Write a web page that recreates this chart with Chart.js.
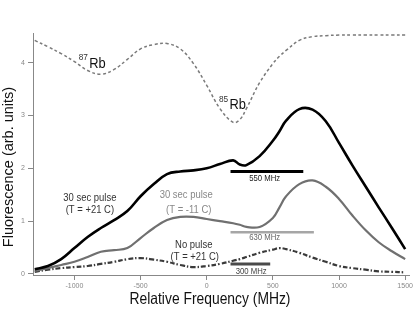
<!DOCTYPE html>
<html>
<head>
<meta charset="utf-8">
<script src="https://cdn.jsdelivr.net/npm/chart.js@4.4.1/dist/chart.umd.min.js"></script>
<style>
  body { margin: 0; background: #fff; }
  canvas { display: block; }
</style>
</head>
<body>
<canvas id="graphique" width="415" height="309"></canvas>
<script>
// fréquences relatives (MHz) communes aux quatre courbes
const frequences = [-1300, -1200, -1100, -1000, -900, -800, -700, -600, -500, -400, -300, -200, -100, 0, 100, 200, 250, 300, 400, 500, 550, 600, 700, 800, 900, 1000, 1100, 1200, 1300, 1400, 1500];

// courbe de référence Rb (pointillés)
const referenceRb = [4.42, 4.30, 4.17, 4.02, 3.85, 3.78, 3.87, 4.06, 4.26, 4.34, 4.36, 4.26, 3.98, 3.57, 3.13, 2.87, 2.92, 3.13, 3.62, 3.98, 4.12, 4.23, 4.42, 4.49, 4.51, 4.52, 4.52, 4.52, 4.52, 4.52, 4.52];
// 30 sec pulse (T = +21 C)
const pulse21 = [0.09, 0.15, 0.28, 0.49, 0.70, 0.87, 1.02, 1.19, 1.47, 1.70, 1.89, 1.94, 1.96, 2.00, 2.08, 2.15, 2.07, 2.06, 2.23, 2.52, 2.70, 2.90, 3.12, 3.11, 2.89, 2.48, 2.06, 1.66, 1.26, 0.87, 0.47];
// 30 sec pulse (T = -11 C)
const pulseMoins11 = [0.06, 0.11, 0.17, 0.23, 0.32, 0.42, 0.45, 0.49, 0.68, 0.87, 1.02, 1.08, 1.08, 1.04, 1.00, 0.96, 0.93, 0.89, 0.89, 1.06, 1.26, 1.47, 1.70, 1.77, 1.65, 1.42, 1.11, 0.83, 0.60, 0.43, 0.28];
// No pulse (T = +21 C)
const sansPulse = [0.04, 0.08, 0.11, 0.13, 0.15, 0.19, 0.23, 0.28, 0.30, 0.27, 0.23, 0.17, 0.13, 0.15, 0.19, 0.25, 0.28, 0.32, 0.40, 0.46, 0.49, 0.47, 0.40, 0.31, 0.23, 0.15, 0.11, 0.08, 0.05, 0.04, 0.03];

// barres d'échelle
const barresDebut = [180, 180, 180];
const barresLargeur = [550, 630, 300];
const barresNiveau = [1.94, 0.79, 0.19];

// ticks
const ticksX = [-1000, -500, 0, 500, 1000, 1500];
const ticksY = [0, 1, 2, 3, 4];

// annotations (texte, fréquence, niveau)
const notesTexte = ["30 sec pulse", "(T = +21 C)", "30 sec pulse", "(T = -11 C)", "No pulse", "(T = +21 C)", "550 MHz", "630 MHz", "300 MHz"];
const notesFreq = [-883, -883, -155, -136, -98, -90, 438, 438, 336];
const notesNiveau = [1.43, 1.21, 1.49, 1.21, 0.55, 0.32, 1.81, 0.68, 0.04];
const notesCouleur = ["#333", "#333", "#888", "#888", "#333", "#333", "#222", "#666", "#444"];
const notesTaille = [11, 11, 11, 11, 11, 11, 9, 9, 9];

const isotopes = ["87", "85"];
const isotopesFreq = [-826, 234];
const isotopesNiveau = [3.98, 3.19];

const serie = (valeurs) => frequences.map((f, i) => ({ x: f, y: valeurs[i] }));

const barres = barresDebut.map((d, i) => [
    { x: d, y: barresNiveau[i] },
    { x: d + barresLargeur[i], y: barresNiveau[i] }
]);

// texte compressé horizontalement comme sur l'original
function texte(ctx, t, x, y, taille, couleur, alignement, echelle) {
    ctx.save();
    ctx.translate(x, y);
    ctx.scale(echelle, 1);
    ctx.font = taille + "px 'Liberation Sans', Arial, sans-serif";
    ctx.fillStyle = couleur;
    ctx.textAlign = alignement;
    ctx.textBaseline = "middle";
    ctx.fillText(t, 0, 0);
    ctx.restore();
}

const pluginTextes = {
    id: "textes",
    afterDraw(chart) {
        const ctx = chart.ctx;
        const sx = chart.scales.x;
        const sy = chart.scales.y;
        for (let i = 0; i < notesTexte.length; i++) {
            texte(ctx, notesTexte[i], sx.getPixelForValue(notesFreq[i]), sy.getPixelForValue(notesNiveau[i]),
                notesTaille[i], notesCouleur[i], "center", 0.86);
        }
        for (let i = 0; i < isotopes.length; i++) {
            const x = sx.getPixelForValue(isotopesFreq[i]);
            const y = sy.getPixelForValue(isotopesNiveau[i]);
            texte(ctx, "Rb", x, y, 14, "#111", "center", 0.92);
            texte(ctx, isotopes[i], x - 9.5, y - 6, 9, "#333", "right", 0.92);
        }
        // titres des axes
        texte(ctx, "Relative Frequency (MHz)", 210, 299, 16.5, "#111", "center", 0.84);
        ctx.save();
        ctx.translate(9, 167);
        ctx.rotate(-Math.PI / 2);
        texte(ctx, "Fluorescence (arb. units)", 0, 0, 14.5, "#111", "center", 1);
        ctx.restore();
    }
};

const data = {
    datasets: [
        { data: serie(referenceRb), borderColor: "#7a7a7a", borderWidth: 1.5, borderDash: [3, 2.5] },
        { data: serie(pulse21), borderColor: "#000", borderWidth: 2.6 },
        { data: serie(pulseMoins11), borderColor: "#707070", borderWidth: 2.2 },
        { data: serie(sansPulse), borderColor: "#3a3a3a", borderWidth: 2.2, borderDash: [5, 2, 1.5, 2] },
        { data: barres[0], borderColor: "#000", borderWidth: 3, tension: 0 },
        { data: barres[1], borderColor: "#a6a6a6", borderWidth: 2.6, tension: 0 },
        { data: barres[2], borderColor: "#4a4a4a", borderWidth: 3, tension: 0 }
    ]
};

const config = {
    type: "line",
    data: data,
    options: {
        responsive: false,
        animation: false,
        layout: { padding: { top: 33, right: 5, left: 0, bottom: 0 } },
        elements: {
            point: { radius: 0 },
            line: { tension: 0.4, borderCapStyle: "butt" }
        },
        plugins: { legend: { display: false }, tooltip: { enabled: false } },
        scales: {
            x: {
                type: "linear",
                min: -1313,
                max: 1532,
                afterFit: (s) => { s.height = 34; },
                afterBuildTicks: (s) => { s.ticks = ticksX.map(v => ({ value: v })); },
                border: { color: "#888", width: 1 },
                grid: { drawOnChartArea: false, drawTicks: true, tickLength: 5, color: "#888" },
                ticks: {
                    font: { size: 7, family: "'Liberation Sans', Arial" },
                    color: "#888",
                    padding: 2,
                    maxRotation: 0,
                    callback: (v) => String(v)
                }
            },
            y: {
                type: "linear",
                min: -0.02,
                max: 4.56,
                afterFit: (s) => { s.width = 33; },
                afterBuildTicks: (s) => { s.ticks = ticksY.map(v => ({ value: v })); },
                border: { color: "#888", width: 1 },
                grid: { drawOnChartArea: false, drawTicks: true, tickLength: 5, color: "#888" },
                ticks: {
                    font: { size: 7, family: "'Liberation Sans', Arial" },
                    color: "#888",
                    padding: 3,
                    callback: (v) => String(v)
                }
            }
        }
    },
    plugins: [pluginTextes]
};

new Chart(document.querySelector("#graphique"), config);
</script>
</body>
</html>
